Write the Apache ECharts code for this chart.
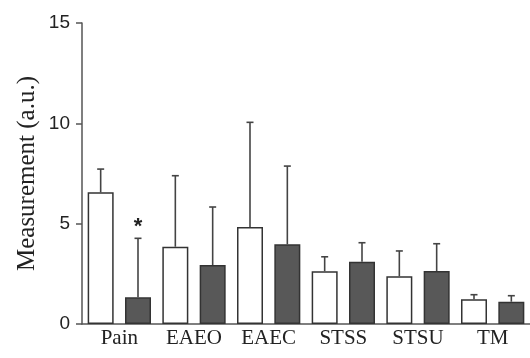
<!DOCTYPE html>
<html>
<head>
<meta charset="utf-8">
<script src="https://cdn.jsdelivr.net/npm/echarts@6/dist/echarts.min.js"></script>
<style>html,body{margin:0;padding:0;background:#fff;}#c{width:530px;height:358px;}</style>
</head>
<body>
<div id="c"></div>
<script>
var groups = ['Pain', 'EAEO', 'EAEC', 'STSS', 'STSU', 'TM'];
var whiteMeans = [6.56, 3.85, 4.83, 2.63, 2.38, 1.23];
var whiteErr = [1.16, 3.54, 5.22, 0.72, 1.26, 0.23];
var darkMeans = [1.33, 2.94, 3.97, 3.10, 2.64, 1.11];
var darkErr = [2.94, 2.89, 3.90, 0.95, 1.36, 0.30];
var darkMarks = ['*', '', '', '', '', ''];
var yTicks = [0, 5, 10, 15];

var cats = [], barData = [], errData = [];
for (var i = 0; i < groups.length; i++) {
  cats.push(groups[i] + '-w', groups[i] + '-d');
  barData.push({value: whiteMeans[i], itemStyle: {color: '#ffffff'}});
  barData.push({value: darkMeans[i], itemStyle: {color: '#585858'}});
  errData.push([2 * i, whiteMeans[i], whiteMeans[i] + whiteErr[i], '']);
  errData.push([2 * i + 1, darkMeans[i], darkMeans[i] + darkErr[i], darkMarks[i]]);
}

var chart = echarts.init(document.getElementById('c'), null, {renderer: 'canvas'});
chart.setOption({
  backgroundColor: '#ffffff',
  animation: false,
  grid: {left: 82, right: -3, top: 23, bottom: 34, containLabel: false},
  xAxis: [{
    type: 'category', data: cats, boundaryGap: true,
    axisLine: {lineStyle: {color: '#555', width: 1.5}},
    axisTick: {alignWithLabel: true, length: 6, lineStyle: {color: '#555', width: 1.5}},
    axisLabel: {show: false}
  }, {
    type: 'category', data: groups, position: 'bottom', boundaryGap: true,
    axisLine: {show: false}, axisTick: {show: false},
    axisLabel: {margin: 4, fontFamily: 'Liberation Serif', fontSize: 21, color: '#222'}
  }],
  yAxis: {
    type: 'value', min: 0, max: 15, interval: 5,
    name: 'Measurement (a.u.)', nameLocation: 'middle', nameRotate: 90, nameGap: 42,
    nameMoveOverlap: false,
    nameTextStyle: {fontFamily: 'Liberation Serif', fontSize: 25, color: '#222'},
    axisLine: {show: true, lineStyle: {color: '#555', width: 1.5}},
    axisTick: {show: true, length: 6, lineStyle: {color: '#555', width: 1.5}},
    axisLabel: {margin: 12, fontFamily: 'Liberation Sans', fontSize: 19, color: '#222',
      formatter: function (v) { return yTicks.indexOf(v) >= 0 ? String(v) : ''; }},
    splitLine: {show: false}
  },
  series: [{
    type: 'bar', xAxisIndex: 0, data: barData, barWidth: 26,
    itemStyle: {borderColor: '#333', borderWidth: 1.5}, z: 2
  }, {
    type: 'custom', xAxisIndex: 0, data: errData, z: 3,
    renderItem: function (params, api) {
      var x = api.value(0);
      var p0 = api.coord([x, api.value(1)]);
      var p1 = api.coord([x, api.value(2)]);
      var mark = api.value(3);
      var st = {stroke: '#444', lineWidth: 1.6};
      var ch = [
        {type: 'line', shape: {x1: p0[0], y1: p0[1], x2: p1[0], y2: p1[1]}, style: st},
        {type: 'line', shape: {x1: p1[0] - 3.5, y1: p1[1], x2: p1[0] + 3.5, y2: p1[1]}, style: st}
      ];
      if (mark) {
        ch.push({type: 'text', style: {text: mark, x: p1[0], y: p1[1], align: 'center', verticalAlign: 'bottom',
          font: 'bold 22px Liberation Sans', fill: '#222'}});
      }
      return {type: 'group', children: ch};
    }
  }]
});
</script>
</body>
</html>
